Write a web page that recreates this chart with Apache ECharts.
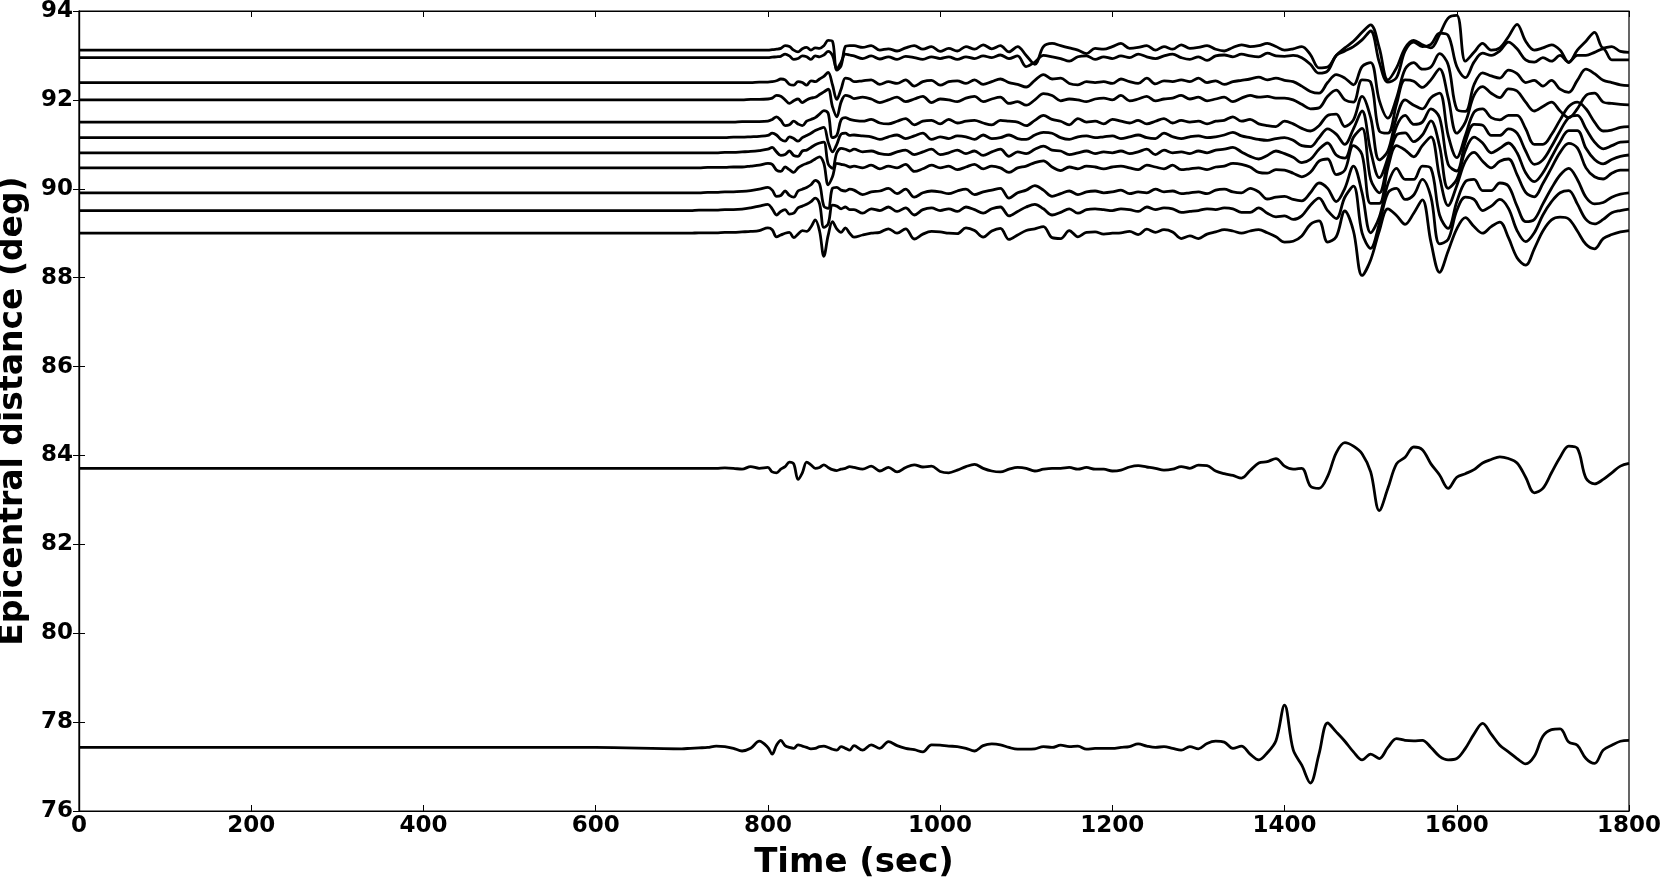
<!DOCTYPE html>
<html>
<head>
<meta charset="utf-8">
<script src="https://cdn.jsdelivr.net/npm/echarts@6/dist/echarts.min.js"></script>
<style>
html,body{margin:0;padding:0;background:#fff;}
#chart{width:1662px;height:877px;}
</style>
</head>
<body>
<div id="chart"></div>
<script>
// Sampling times (sec): 0, 600, 700..790 every 10 s, 800..895 every 5 s, 900..1800 every 10 s
const TIMES = [0, 600];
for (let t = 700; t < 800; t += 10) TIMES.push(t);
for (let t = 800; t < 900; t += 5) TIMES.push(t);
for (let t = 900; t <= 1800; t += 10) TIMES.push(t);

// Epicentral distance of each trace (deg)
const DISTANCES = [93.12, 92.95, 92.39, 92.00, 91.50, 91.15, 90.81, 90.47, 89.91, 89.51, 89.00, 83.71, 77.43];

// Trace amplitudes in hundredths of a degree
const TRACE_1 = [0,0,
 0,0,0,0,0,0,0,0,0,0,
 0,1,2,4,10,8,0,-4,3,6,0,5,4,10,22,20,-45,-35,8,10,
 10,6,10,0,3,-2,5,10,2,8, -3,4,-2,8,2,12,3,10,-4,8, -12,-32,8,15,10,5,0,-8,4,2, 8,15,4,6,10,0,8,2,12,4, 6,10,2,-2,6,12,8,10,15,8,
 0,3,8,-10,-40,-38,-12,5,20,40, 57,5,-67,-40,5,22,12,5,35,72, 78,-25,-5,15,0,5,30,58,20,0, 5,12,0,-28,0,20,40,5,8,-3, -5];
const TRACE_2 = [0,0,
 0,0,0,0,0,0,0,0,0,0,
 0,1,2,3,8,4,-4,-2,4,2,-4,4,2,6,14,5,-25,-10,8,6,
 4,-2,4,-3,2,-4,3,0,-4,2, -2,2,-4,2,-2,4,0,6,-2,4, -20,-10,5,2,-2,-8,2,4,-4,2, -2,4,0,8,2,-2,4,8,0,-4, 2,-6,4,6,2,8,4,2,10,4,
 3,5,0,-15,-35,-30,5,15,25,40, 60,-10,-55,-45,15,35,25,30,55,50, -20,-45,-10,10,5,15,35,20,-5,-10, 0,-8,5,-10,5,5,12,20,-5,-5, -5];
const TRACE_3 = [0,0,
 0,0,0,0,0,0,0,0,0,1,
 1,2,4,8,6,-4,-6,2,0,-6,4,2,8,14,23,-5,-38,-15,10,8,
 2,4,6,-4,2,-2,6,-8,2,5, -6,2,4,-2,6,-4,2,8,0,-4, -10,5,18,8,10,-2,-5,2,0,2, -2,8,2,-2,10,-3,4,2,6,2, 10,0,4,-4,2,5,8,12,6,10,
 5,2,-8,-20,-24,0,18,10,-5,36, 45,-40,-80,-35,30,45,30,35,65,40, -60,-65,-5,22,15,10,28,20,0,5, -8,5,-15,-22,5,30,20,5,0,-5, -7];
const TRACE_4 = [0,0,
 0,0,0,0,0,0,0,0,1,1,
 2,4,10,8,0,-8,-2,2,-6,0,4,6,12,18,24,-15,-38,-5,10,8,
 3,6,2,-6,0,6,-4,2,8,-6, 2,0,-4,4,8,-4,2,6,-8,-4, -12,0,14,10,-2,2,0,-4,2,4, 0,10,-2,2,8,-2,2,4,10,2, 6,-2,2,6,-4,4,10,6,8,4,
 4,0,-10,-20,-18,8,22,0,-5,45, 40,-70,-75,-10,45,42,28,45,70,5, -75,-50,10,30,15,5,25,20,-5,-25, -15,-5,-25,-40,-20,10,15,-5,-8,-10, -11];
const TRACE_5 = [0,0,
 0,0,0,0,0,0,0,1,1,1,
 2,6,12,4,-8,-6,2,-4,-8,2,6,10,18,26,20,-35,-30,5,10,6,
 4,2,6,-2,-4,2,8,-6,2,4, -4,6,-2,2,4,-2,-6,4,2,0, -8,4,15,6,2,-6,8,0,2,-4, 6,2,-2,4,-4,2,8,-2,4,0, 2,-4,2,4,12,2,6,-4,-8,-10,
 2,-4,-14,-20,-8,15,18,-10,5,58, 10,-85,-65,10,50,38,30,55,65,-30, -80,-30,22,30,10,5,15,15,-15,-50, -50,-28,5,35,45,30,0,-20,-18,-12, -10];
const TRACE_6 = [0,0,
 0,0,0,0,0,0,1,1,2,3,
 5,10,6,-4,-8,2,-2,-8,0,5,10,16,20,23,-10,-32,-15,8,10,5,
 6,4,2,-4,2,6,-2,4,10,-4, 2,-2,4,2,-4,6,-2,0,6,-2, -4,6,12,10,0,-4,2,4,0,2, 4,-2,2,6,0,-2,10,2,-2,2, 4,0,2,6,12,4,0,-4,-6,-2,
 0,-6,-18,-20,0,20,8,-15,20,60, -30,-90,-45,25,50,30,35,65,45,-60, -75,-10,30,28,5,5,20,10,-30,-60, -50,-20,15,45,50,20,-10,-25,-18,-10, -9];
const TRACE_7 = [0,0,
 0,0,0,0,0,1,1,2,3,5,
 8,12,2,-6,-4,4,-6,-8,4,6,12,18,22,24,-25,-35,0,10,8,4,
 8,2,4,-2,-4,2,6,-4,2,8, -4,0,6,-2,4,-6,2,8,-8,2, -2,8,15,6,4,-4,0,4,-2,2, 0,4,-2,2,8,-4,6,0,2,-2, 4,0,6,8,12,2,-8,-14,-6,4,
 -2,-10,-22,-15,8,22,-5,-12,35,55, -60,-90,-20,40,45,25,40,72,15,-80, -60,5,35,22,0,10,22,0,-45,-65, -45,-10,25,50,50,10,-15,-25,-15,-8, -5];
const TRACE_8 = [0,0,
 0,0,0,1,1,1,2,2,4,6,
 10,8,-5,-8,2,-4,-10,0,6,10,14,20,25,10,-38,-20,10,8,6,2,
 4,0,6,-2,4,0,8,-8,-2,6, 0,4,-4,2,8,-2,4,0,-10,0, 4,12,16,2,-6,2,-2,4,2,-2, 2,4,0,-4,6,2,-2,6,-4,-2, 0,-4,2,4,10,8,2,-10,-12,-4,
 -5,-12,-20,-10,15,20,-15,-5,50,30, -80,-80,0,50,40,25,50,70,-20,-85, -40,15,35,15,0,15,20,-15,-55,-65, -35,0,35,55,45,0,-20,-25,-12,-5, -5];
const TRACE_9 = [0,0,
 0,0,0,1,1,2,2,3,5,8,
 12,6,-8,-6,4,-6,-10,4,8,12,18,28,20,-30,-35,10,12,6,4,8,
 6,-4,2,4,10,-2,8,-10,0,4, 2,-2,4,8,-4,2,6,10,-12,0, 6,16,6,-8,-2,4,-4,2,4,0, 2,6,-2,2,0,8,2,4,-2,0, 2,-2,6,8,2,0,10,2,-14,-10,
 -8,-15,-18,0,22,10,-20,10,60,0, -90,-55,20,55,30,30,60,55,-50,-80, -20,25,30,5,5,22,15,-30,-65,-60, -25,10,40,55,30,-10,-25,-22,-10,-3, 0];
const TRACE_10 = [0,0,
 0,0,1,1,1,2,2,3,6,10,
 14,4,-10,-2,2,-8,-6,6,10,14,20,28,15,-38,-30,12,10,4,8,2,
 2,-6,4,0,8,-2,6,-10,2,6, 0,4,-2,8,2,-6,4,8,-12,-2, 8,14,4,-10,-4,4,-6,2,4,2, 0,4,2,-2,8,2,6,4,-4,-2, 0,4,2,6,4,-4,-4,6,-6,-14,
 -12,-20,-12,12,28,0,-18,30,55,-50, -85,-30,40,50,25,35,70,30,-75,-65, 0,30,25,0,10,25,5,-45,-70,-50, -10,20,40,45,15,-20,-30,-20,-5,0, 3];
const TRACE_11 = [0,0,
 0,0,1,1,1,2,2,3,4,6,
 12,8,-8,-4,0,2,-10,-2,6,4,14,30,5,-52,-5,26,10,2,12,0,
 -9,-4,0,2,10,0,10,-13,-2,4, 3,0,-1,12,6,-9,5,11,-14,-4, 6,10,15,-10,-12,6,-8,2,3,-2, 0,1,4,-3,9,2,8,3,-12,-6, -12,-2,3,8,5,0,5,8,1,-8,
 -20,-18,-6,20,28,-20,-8,50,5,-95, -60,5,55,40,20,45,75,-20,-88,-40, 10,35,15,0,15,25,-10,-55,-72,-35, 5,30,36,32,5,-25,-35,-12,-3,3, 6];
const TRACE_12 = [0,0,
 0,0,0,0,0,1,0,-2,4,0,
 2,-8,-10,-2,4,14,10,-25,-10,14,8,0,2,8,2,-3,-5,-2,0,4,
 2,-2,5,-6,2,-8,2,8,3,5, -7,-10,-4,4,9,0,-6,-8,-2,2, 0,-6,-2,0,0,2,-2,2,-2,-2, -6,-4,3,6,3,0,-4,-2,4,0, 7,6,-6,-12,-16,-22,-5,12,15,22,
 5,-2,0,-40,-45,-18,35,58,50,33, -8,-95,-45,10,25,48,42,10,-15,-45, -20,-12,-3,12,20,26,22,12,-20,-55, -45,-10,25,50,45,-22,-35,-25,-10,5, 11];
const TRACE_13 = [0,0,
 -3,-2,-1,0,3,2,-2,-8,-2,14,
 0,-15,5,16,4,0,-2,6,3,0,-3,-2,2,3,0,-4,-6,2,-2,-6,
 4,-6,6,-2,13,4,-2,-5,-10,6, 5,3,2,-2,-8,4,8,6,0,-4, -4,-3,2,0,5,2,3,-4,-2,-2, -2,0,2,8,3,0,2,-2,-6,2, -3,9,14,12,-2,3,-15,-28,-12,15,
 95,-5,-40,-80,-15,55,35,14,-10,-28, -15,-25,0,20,16,15,16,0,-20,-28, -25,-2,30,54,30,5,-10,-25,-37,-20, 25,40,42,12,5,-25,-36,-6,5,14, 16];

const TRACES = [TRACE_1, TRACE_2, TRACE_3, TRACE_4, TRACE_5, TRACE_6, TRACE_7,
                TRACE_8, TRACE_9, TRACE_10, TRACE_11, TRACE_12, TRACE_13];

const X_TICKS = [0, 200, 400, 600, 800, 1000, 1200, 1400, 1600, 1800];
const Y_TICKS = [76, 78, 80, 82, 84, 86, 88, 90, 92, 94];

TRACES.forEach((tr, k) => {
  if (tr.length !== TIMES.length) throw new Error('trace ' + (k + 1) + ' has ' + tr.length + ' values, expected ' + TIMES.length);
});

const FONT = 'DejaVu Sans';
const series = TRACES.map((amp, k) => ({
  type: 'line',
  data: TIMES.map((t, i) => [t, DISTANCES[k] + amp[i] / 100]),
  showSymbol: false,
  smooth: 0.35,
  lineStyle: { color: '#000', width: 2.8 },
  silent: true,
  z: 3
}));

const chart = echarts.init(document.getElementById('chart'), null, { renderer: 'canvas' });
const labelStyle = { color: '#000', fontFamily: FONT, fontWeight: 'bold', fontSize: 23 };
const plain = v => String(v);
chart.setOption({
  animation: false,
  backgroundColor: '#fff',
  grid: { left: 79, right: 33, top: 11, bottom: 66, containLabel: false, outerBoundsMode: 'none',
          show: true, borderColor: '#000', borderWidth: 1.2, backgroundColor: 'transparent' },
  xAxis: [{
    type: 'value', min: X_TICKS[0], max: X_TICKS[X_TICKS.length - 1], interval: 200,
    name: 'Time (sec)', nameLocation: 'middle', nameGap: 35,
    nameTextStyle: { color: '#000', fontFamily: FONT, fontWeight: 'bold', fontSize: 34 },
    axisLine: { show: true, lineStyle: { color: '#000', width: 1.2 } },
    axisTick: { show: true, inside: true, length: 6, lineStyle: { color: '#000' } },
    axisLabel: Object.assign({ margin: 4, formatter: plain }, labelStyle),
    splitLine: { show: false }
  }, {
    type: 'value', position: 'top', min: X_TICKS[0], max: X_TICKS[X_TICKS.length - 1], interval: 200,
    axisLine: { show: true, lineStyle: { color: '#000', width: 1.2 } },
    axisTick: { show: true, inside: true, length: 6, lineStyle: { color: '#000' } },
    axisLabel: { show: false }, splitLine: { show: false }
  }],
  yAxis: [{
    type: 'value', min: Y_TICKS[0], max: Y_TICKS[Y_TICKS.length - 1], interval: 2,
    name: 'Epicentral distance (deg)', nameLocation: 'middle', nameGap: 45,
    nameTextStyle: { color: '#000', fontFamily: FONT, fontWeight: 'bold', fontSize: 33 },
    axisLine: { show: true, lineStyle: { color: '#000', width: 1.2 } },
    axisTick: { show: true, inside: true, length: 6, lineStyle: { color: '#000' } },
    axisLabel: Object.assign({ margin: 6, formatter: plain }, labelStyle),
    splitLine: { show: false }
  }, {
    type: 'value', position: 'right', min: Y_TICKS[0], max: Y_TICKS[Y_TICKS.length - 1], interval: 2,
    axisLine: { show: true, lineStyle: { color: '#000', width: 1.2 } },
    axisTick: { show: true, inside: true, length: 6, lineStyle: { color: '#000' } },
    axisLabel: { show: false }, splitLine: { show: false }
  }],
  series: series
});
</script>
</body>
</html>
